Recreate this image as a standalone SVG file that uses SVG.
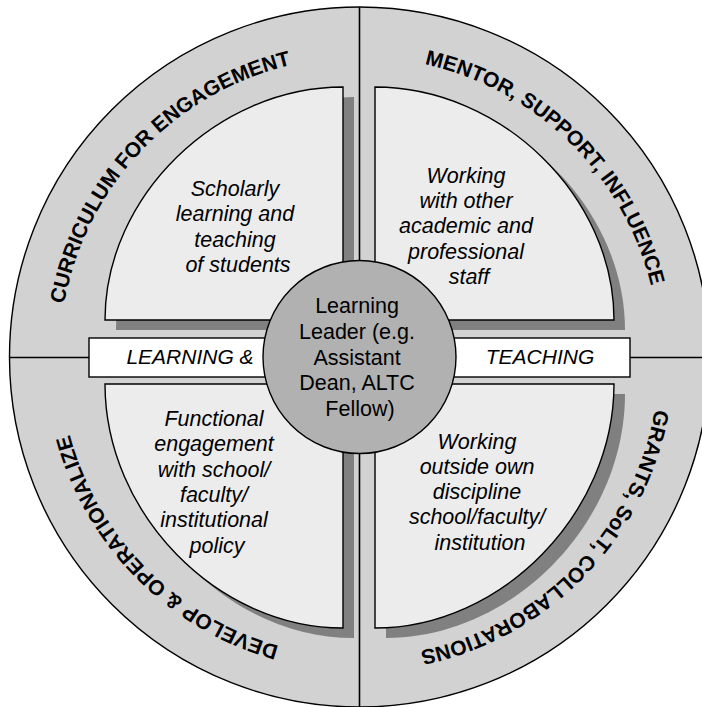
<svg xmlns="http://www.w3.org/2000/svg" xmlns:xlink="http://www.w3.org/1999/xlink" width="702" height="707" viewBox="0 0 702 707">
  <style>
    .band { fill: #d2d2d2; stroke: #000; stroke-width: 1.4; }
    .divider { stroke: #000; stroke-width: 1.6; fill: none; }
    .quad { fill: #ececec; stroke: #000; stroke-width: 1.4; }
    .shadow { fill: #808080; stroke: none; }
    .bar { fill: #fff; stroke: #000; stroke-width: 1.4; }
    .hub { fill: #b1b1b1; stroke: #000; stroke-width: 1.4; }
    .ring-label { font-family: "Liberation Sans", Arial, sans-serif; font-weight: bold; font-size: 21px; fill: #000; }
    .quad-text { font-family: "Liberation Sans", Arial, sans-serif; font-style: italic; font-size: 21.5px; fill: #000; text-anchor: middle; }
    .bar-text { font-family: "Liberation Sans", Arial, sans-serif; font-style: italic; font-size: 21px; fill: #000; text-anchor: middle; }
    .hub-text { font-family: "Liberation Sans", Arial, sans-serif; font-size: 21.5px; fill: #000; text-anchor: middle; }
  </style>
  <defs>
    <!-- clockwise arcs (r = 300) carrying the ring labels -->
    <path id="arc-ul" d="M61.43,390.96 A300,300 0 0 1 377.82,57.56"/>
    <path id="arc-ur" d="M330.23,58.43 A300,300 0 0 1 658.62,380.02"/>
    <path id="arc-lr" d="M657.96,326.68 A300,300 0 0 1 337.53,656.19"/>
    <path id="arc-ll" d="M384.08,655.99 A300,300 0 0 1 60.78,329.29"/>
    <path id="q-ul" d="M343,87 L343,320 L105,320 C105,196.5 216.9,87 343,87 Z"/>
    <path id="q-ur" d="M375,87 C501.7,87 614,196.5 614,320 L375,320 Z"/>
    <path id="q-ll" d="M105,384 L343,384 L343,628 C216.9,628 105,513.3 105,384 Z"/>
    <path id="q-lr" d="M375,384 L614,384 C614,513.3 501.7,628 375,628 Z"/>
  </defs>

  <!-- outer ring -->
  <g id="ring">
    <circle class="band" cx="359.5" cy="357" r="350"/>
  </g>

  <!-- quadrant dividers -->
  <g id="connectors">
    <line class="divider" x1="359.5" y1="7" x2="359.5" y2="707"/>
    <line class="divider" x1="9.5" y1="357.5" x2="702" y2="357.5"/>
  </g>

  <!-- ring labels -->
  <g id="label-curriculum">
    <text class="ring-label"><textPath xlink:href="#arc-ul" href="#arc-ul" startOffset="50%" text-anchor="middle">CURRICULUM FOR ENGAGEMENT</textPath></text>
  </g>
  <g id="label-mentor">
    <text class="ring-label"><textPath xlink:href="#arc-ur" href="#arc-ur" startOffset="50%" text-anchor="middle">MENTOR, SUPPORT, INFLUENCE</textPath></text>
  </g>
  <g id="label-grants">
    <text class="ring-label"><textPath xlink:href="#arc-lr" href="#arc-lr" startOffset="50%" text-anchor="middle">GRANTS, SoLT, COLLABORATIONS</textPath></text>
  </g>
  <g id="label-develop">
    <text class="ring-label"><textPath xlink:href="#arc-ll" href="#arc-ll" startOffset="50%" text-anchor="middle">DEVELOP &amp; OPERATIONALIZE</textPath></text>
  </g>

  <!-- quadrant panels -->
  <g id="quad-scholarly">
    <use href="#q-ul" xlink:href="#q-ul" class="shadow" transform="translate(11,10)"/>
    <use href="#q-ul" xlink:href="#q-ul" class="quad"/>
    <text class="quad-text">
      <tspan x="238" y="196">Scholarly</tspan>
      <tspan x="238" y="221">learning and</tspan>
      <tspan x="238" y="246.5">teaching</tspan>
      <tspan x="238" y="272">of students</tspan>
    </text>
  </g>
  <g id="quad-working-with">
    <use href="#q-ur" xlink:href="#q-ur" class="shadow" transform="translate(11,10)"/>
    <use href="#q-ur" xlink:href="#q-ur" class="quad"/>
    <text class="quad-text">
      <tspan x="469" y="183">Working</tspan>
      <tspan x="469" y="208">with other</tspan>
      <tspan x="469" y="233">academic and</tspan>
      <tspan x="469" y="258.5">professional</tspan>
      <tspan x="469" y="284">staff</tspan>
    </text>
  </g>
  <g id="quad-functional">
    <use href="#q-ll" xlink:href="#q-ll" class="shadow" transform="translate(11,10)"/>
    <use href="#q-ll" xlink:href="#q-ll" class="quad"/>
    <text class="quad-text">
      <tspan x="217" y="425.5">Functional</tspan>
      <tspan x="217" y="451">engagement</tspan>
      <tspan x="217" y="476.5">with school/</tspan>
      <tspan x="217" y="502">faculty/</tspan>
      <tspan x="217" y="527">institutional</tspan>
      <tspan x="217" y="552.5">policy</tspan>
    </text>
  </g>
  <g id="quad-working-outside">
    <use href="#q-lr" xlink:href="#q-lr" class="shadow" transform="translate(11,10)"/>
    <use href="#q-lr" xlink:href="#q-lr" class="quad"/>
    <text class="quad-text">
      <tspan x="480" y="449">Working</tspan>
      <tspan x="480" y="474">outside own</tspan>
      <tspan x="480" y="499">discipline</tspan>
      <tspan x="480" y="524">school/faculty/</tspan>
      <tspan x="480" y="549.5">institution</tspan>
    </text>
  </g>

  <!-- learning & teaching bar -->
  <g id="bar">
    <rect class="bar" x="89" y="338" width="541" height="39"/>
    <text class="bar-text" x="190" y="364">LEARNING &amp;</text>
    <text class="bar-text" x="540" y="364">TEACHING</text>
  </g>

  <!-- central hub -->
  <g id="hub">
    <circle class="hub" cx="359.5" cy="357" r="96.5"/>
    <text class="hub-text">
      <tspan x="360" y="313">Learning</tspan>
      <tspan x="360" y="339">Leader (e.g.</tspan>
      <tspan x="360" y="364.5">Assistant</tspan>
      <tspan x="360" y="390">Dean, ALTC</tspan>
      <tspan x="360" y="415.5">Fellow)</tspan>
    </text>
  </g>
</svg>
